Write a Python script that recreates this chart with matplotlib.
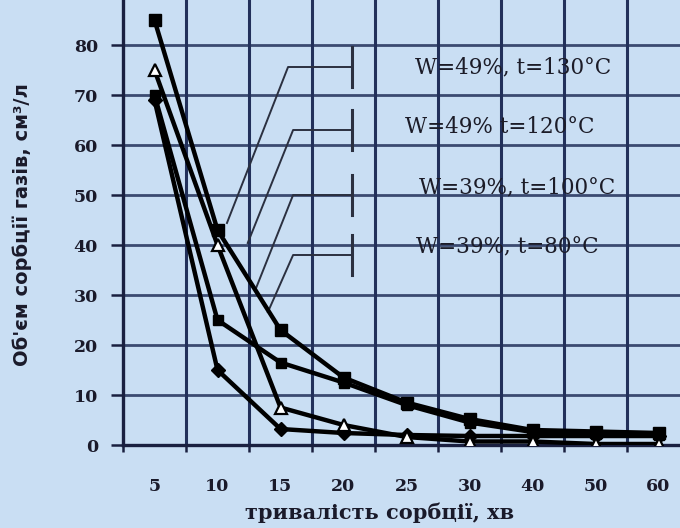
import matplotlib
matplotlib.use("Agg")
import matplotlib.pyplot as plt
import numpy as np

# ---- data ----
categories = ["5", "10", "15", "20", "25", "30", "40", "50", "60"]
s_w49_t130 = [85, 43, 23, 13.5, 8.5, 5.2, 3.0, 2.7, 2.4]
s_w49_t120 = [75, 40, 7.5, 4.0, 1.6, 0.7, 0.7, 0.2, 0.2]
s_w39_t100 = [70, 25, 16.5, 12.5, 8.0, 4.5, 2.6, 2.3, 2.1]
s_w39_t80 = [69, 15, 3.2, 2.4, 2.0, 1.8, 1.8, 1.8, 1.8]
labels = ["W=49%, t=130°C", "W=49% t=120°C", "W=39%, t=100°C", "W=39%, t=80°C"]
yticks = [0, 10, 20, 30, 40, 50, 60, 70, 80]
xlabel = "тривалість сорбції, хв"
ylabel = "Об'єм сорбції газів, см³/л"

# leader-line geometry (category units, value units)
label_pos = [(5.69, 75.6), (5.48, 63.6), (5.75, 51.6), (5.6, 39.6)]
leader_y = [75.6, 63.0, 50.0, 38.0]
leader_x0 = [2.12, 2.2, 2.2, 2.2]
leader_end = [(1.15, 44.4), (1.48, 40.4), (1.6, 31.0), (1.8, 26.6)]
bracket_x = 3.13

bg = "#c9def3"
grid_c = "#22305a"

fig = plt.figure(figsize=(6.8, 5.28), dpi=100, facecolor=bg)
ax = fig.add_axes([123 / 680, 83 / 528, 567 / 680, 445 / 528], facecolor=bg)

x = np.arange(len(categories))
ax.set_xlim(-0.5, len(categories) - 0.5)
ax.set_ylim(0, 89)

# grid
ax.set_xticks(x)
ax.set_xticklabels(categories)
ax.set_xticks(np.arange(-0.5, len(categories)), minor=True)
ax.set_yticks(yticks)
ax.grid(False)
for xv in np.arange(0.5, len(categories)):
    ax.axvline(xv, color=grid_c, lw=2.2, zorder=1)
for yv in yticks[1:]:
    ax.axhline(yv, color=grid_c, lw=2.0, alpha=0.85, zorder=1)

# series
lw = 3.2
ax.plot(x, s_w39_t80, color="black", lw=lw, marker="D", ms=7.5, mfc="black", mec="black", zorder=4)
ax.plot(x, s_w39_t100, color="black", lw=lw, marker="s", ms=7.5, mfc="black", mec="black", zorder=4)
ax.plot(x, s_w49_t120, color="black", lw=lw, marker="^", ms=8.5, mfc="white", mec="black", mew=1.6, zorder=5)
ax.plot(x, s_w49_t130, color="black", lw=lw, marker="s", ms=9, mfc="black", mec="black", zorder=5)

# leader lines and labels
lc = "#2b3040"
for (tx, ty), ly, lx0, (ex, ey), lab in zip(label_pos, leader_y, leader_x0, leader_end, labels):
    ax.plot([ex, lx0, bracket_x], [ey, ly, ly], color=lc, lw=1.4, zorder=3)
    ax.plot([bracket_x, bracket_x], [ly - 4, ly + 4], color=lc, lw=2.2, zorder=3)
    ax.text(tx, ty, lab, ha="center", va="center", fontsize=15.5,
            family="DejaVu Serif", color="#1c1c28", zorder=6)

# spines and ticks
for s in ["top", "right"]:
    ax.spines[s].set_visible(False)
ax.spines["left"].set_color("#1a2040")
ax.spines["left"].set_linewidth(2.4)
ax.spines["bottom"].set_color("#1a2040")
ax.spines["bottom"].set_linewidth(2.4)

ax.tick_params(axis="y", which="major", direction="out", length=9, width=1.8,
               color="#1a2040", pad=9)
ax.tick_params(axis="x", which="major", length=0, pad=24)
ax.tick_params(axis="x", which="minor", direction="out", length=5, width=1.8, color="#1a2040")
for t in ax.get_xticklabels() + ax.get_yticklabels():
    t.set_family("DejaVu Serif")
    t.set_fontweight("bold")
    t.set_fontsize(12.5)
    t.set_color("#1a1a2a")

fig.text(380 / 680, 1 - 513 / 528, xlabel, ha="center", va="center", fontsize=15,
         family="DejaVu Serif", fontweight="bold", color="#1a1a2a")
fig.text(22 / 680, 1 - 225 / 528, ylabel, ha="center", va="center", rotation=90,
         fontsize=14, family="DejaVu Sans", fontweight="bold", color="#1a1a2a")

fig.savefig("out.png", dpi=100, facecolor=bg)
